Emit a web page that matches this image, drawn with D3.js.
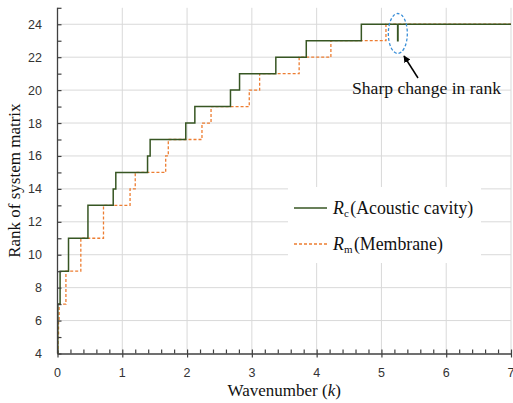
<!DOCTYPE html>
<html><head><meta charset="utf-8">
<script src="https://cdn.jsdelivr.net/npm/d3@7"></script>
<style>body{margin:0;background:#fff}svg{display:block}</style>
</head><body>
<svg id="c" width="513" height="403"></svg>
<script>
// ---- data ----
const rcK = [0, 0.005, 0.04, 0.17, 0.47, 0.86, 0.90, 1.39, 1.43, 1.98, 2.12, 2.67, 2.81, 3.37, 3.84, 4.69, 5.25, 5.256, 7];
const rcR = [4, 7, 9, 11, 13, 14, 15, 16, 17, 18, 19, 20, 21, 22, 23, 24, 23, 24, 24];
const rmK = [0, 0.008, 0.016, 0.025, 0.13, 0.36, 0.71, 1.12, 1.20, 1.67, 1.71, 2.23, 2.37, 2.96, 3.12, 3.73, 4.22, 5.07, 7];
const rmR = [4, 5, 6, 7, 9, 11, 13, 14, 15, 16, 17, 18, 19, 20, 21, 22, 23, 24, 24];
const xTicks = [0, 1, 2, 3, 4, 5, 6, 7];
const yTicks = [4, 6, 8, 10, 12, 14, 16, 18, 20, 22, 24];
const xTitle = "Wavenumber (";
const yTitle = "Rank of system matrix";
const annotation = "Sharp change in rank";

const svg = d3.select("#c");
const x = d3.scaleLinear().domain([0, 7]).range([57.5, 511]);
const y = d3.scaleLinear().domain([4, 25]).range([353.5, 7.8]);
const axisCol = "#404040";

// gridlines
svg.append("g").selectAll("line").data(yTicks.filter(d => d > 4)).join("line")
  .attr("x1", x(0)).attr("x2", x(7)).attr("y1", d => y(d)).attr("y2", d => y(d))
  .attr("stroke", "#d9d9d9").attr("stroke-width", 1);
svg.append("g").selectAll("line").data(xTicks.filter(d => d > 0)).join("line")
  .attr("x1", d => x(d)).attr("x2", d => x(d)).attr("y1", y(4)).attr("y2", y(25))
  .attr("stroke", "#d9d9d9").attr("stroke-width", 1);

// legend background (covers grid)
svg.append("rect").attr("x", 288).attr("y", 187).attr("width", 193).attr("height", 76).attr("fill", "#fff");

// lines
const line = d3.line().x(d => x(d[0])).y(d => y(d[1])).curve(d3.curveStepAfter);
svg.append("path").datum(rmK.map((k, i) => [k, rmR[i]]))
  .attr("d", line).attr("fill", "none").attr("stroke", "#ED7D31").attr("stroke-width", 1.3).attr("stroke-dasharray", "3,2");
svg.append("path").datum(rcK.map((k, i) => [k, rcR[i]]))
  .attr("d", line).attr("fill", "none").attr("stroke", "#375623").attr("stroke-width", 1.5);

// axes
const yAxis = d3.axisRight(y).tickValues(d3.range(4, 26, 1)).tickSize(4).tickFormat("");
const gy = svg.append("g").attr("transform", `translate(${x(0)},0)`).call(yAxis);
gy.select(".domain").attr("stroke", axisCol).attr("stroke-width", 1.3).attr("d", `M0,${y(25)}V${y(4)}`);
gy.selectAll(".tick line").attr("stroke", axisCol).attr("stroke-width", 1.2);

svg.append("g").selectAll("text").data(yTicks).join("text")
  .attr("x", 42).attr("y", d => y(d)).attr("dy", "0.36em").attr("text-anchor", "end")
  .attr("font-family", "Liberation Sans, Arial, sans-serif").attr("font-size", 12.5).attr("fill", "#333")
  .text(d => d);

const minorX = d3.range(0, 7.001, 0.2).filter(v => Math.abs(v - Math.round(v)) > 0.01);
const xMinor = d3.axisTop(x).tickValues(minorX).tickSize(4).tickFormat("");
const gxm = svg.append("g").attr("transform", `translate(0,${y(4)})`).call(xMinor);
gxm.select(".domain").remove();
gxm.selectAll(".tick line").attr("stroke", axisCol).attr("stroke-width", 1.2);
const xMajor = d3.axisBottom(x).tickValues(xTicks).tickSizeInner(4).tickSizeOuter(0).tickFormat("");
const gx = svg.append("g").attr("transform", `translate(0,${y(4)})`).call(xMajor);
gx.select(".domain").attr("stroke", axisCol).attr("stroke-width", 1.3);
gx.selectAll(".tick line").attr("stroke", axisCol).attr("stroke-width", 1.2).attr("y1", -4);
svg.append("g").selectAll("text").data(xTicks).join("text")
  .attr("x", d => x(d)).attr("y", 376.5).attr("text-anchor", "middle")
  .attr("font-family", "Liberation Sans, Arial, sans-serif").attr("font-size", 12.5).attr("fill", "#333")
  .text(d => d);

// axis titles
const serif = "Liberation Serif, Times New Roman, serif";
const xt = svg.append("text").attr("x", (x(0) + x(7)) / 2).attr("y", 396).attr("text-anchor", "middle")
  .attr("font-family", serif).attr("font-size", 17).attr("fill", "#111");
xt.append("tspan").text(xTitle);
xt.append("tspan").attr("font-style", "italic").text("k");
xt.append("tspan").text(")");
svg.append("text").attr("transform", `translate(20,${(y(4) + y(25)) / 2}) rotate(-90)`).attr("text-anchor", "middle")
  .attr("font-family", serif).attr("font-size", 17).attr("fill", "#111").text(yTitle);

// legend
const leg = [
  {sub: "c", label: "(Acoustic cavity)", color: "#375623", dash: null, w: 1.5, yy: 208},
  {sub: "m", label: "(Membrane)", color: "#ED7D31", dash: "3,2", w: 1.3, yy: 244}
];
leg.forEach(l => {
  svg.append("line").attr("x1", 294).attr("x2", 327).attr("y1", l.yy).attr("y2", l.yy)
    .attr("stroke", l.color).attr("stroke-width", l.w).attr("stroke-dasharray", l.dash);
  const t = svg.append("text").attr("x", 333).attr("y", l.yy + 6)
    .attr("font-family", serif).attr("font-size", 17.8).attr("fill", "#111");
  t.append("tspan").attr("font-style", "italic").text("R");
  t.append("tspan").attr("font-size", 11).attr("dy", 3).text(l.sub);
  t.append("tspan").attr("dy", -3).attr("dx", 1.5).text(l.label);
});

// annotation
svg.append("ellipse").attr("cx", x(5.253)).attr("cy", 33.5).attr("rx", 9.5).attr("ry", 20)
  .attr("fill", "none").attr("stroke", "#3a8fd8").attr("stroke-width", 1.3).attr("stroke-dasharray", "3,2");
svg.append("defs").append("marker").attr("id", "ah").attr("viewBox", "0 0 10 10").attr("refX", 9).attr("refY", 5)
  .attr("markerWidth", 7).attr("markerHeight", 7).attr("markerUnits", "userSpaceOnUse").attr("orient", "auto")
  .append("path").attr("d", "M0,0L10,5L0,10Z").attr("fill", "#000");
svg.append("line").attr("x1", 418).attr("y1", 78).attr("x2", 404).attr("y2", 56)
  .attr("stroke", "#000").attr("stroke-width", 1.5).attr("marker-end", "url(#ah)");
svg.append("text").attr("x", 352).attr("y", 94).attr("font-family", serif).attr("font-size", 17.6).attr("fill", "#111").text(annotation);
</script>
</body></html>
